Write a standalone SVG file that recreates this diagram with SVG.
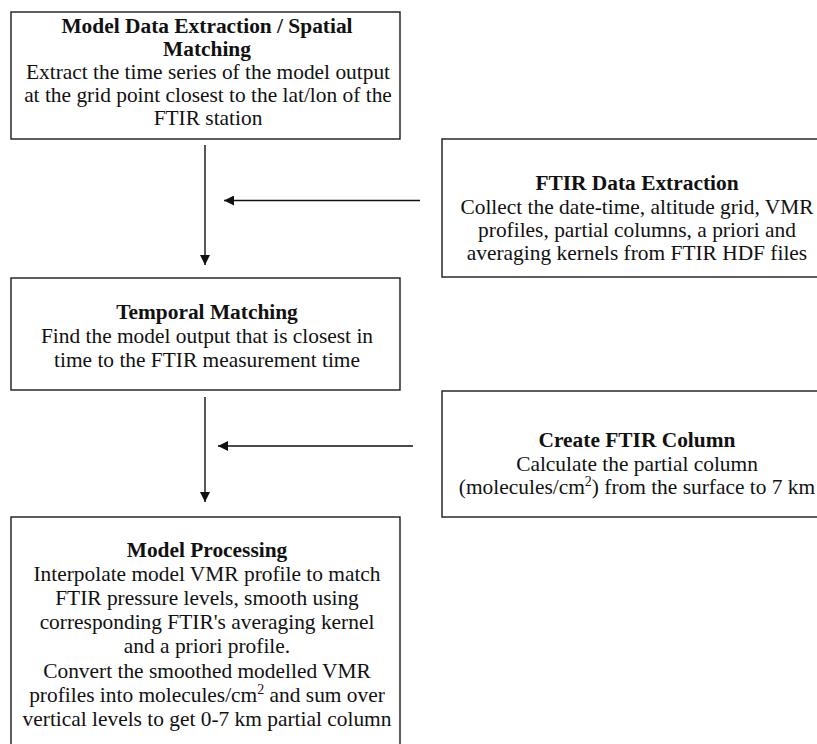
<svg xmlns="http://www.w3.org/2000/svg" width="817" height="744" viewBox="0 0 817 744">
<style>
.box{fill:#fff;stroke:#1a1a1a;stroke-width:1.4}
text{font-family:"Liberation Serif","Times New Roman","DejaVu Serif",serif;font-size:21.4px;fill:#111;text-anchor:middle}
.t{font-weight:bold}
.sup{font-size:14px}
.c{stroke:#111;stroke-width:1.4;fill:none}
</style>
<defs>
<marker id="ah" viewBox="0 0 10 10" refX="10" refY="5" markerWidth="10" markerHeight="10" markerUnits="userSpaceOnUse" orient="auto">
<path d="M0,0 L10,5 L0,10 Z" fill="#111"/>
</marker>
</defs>
<rect width="817" height="744" fill="#fff"/>
<g id="spatial">
<rect class="box" x="11" y="12" width="389" height="127"/>
<text class="t" x="207" y="33">Model Data Extraction / Spatial</text>
<text class="t" x="207" y="56">Matching</text>
<text x="208" y="79">Extract the time series of the model output</text>
<text x="208" y="102">at the grid point closest to the lat/lon of the</text>
<text x="208" y="125">FTIR station</text>
</g>
<g id="ftir-extraction">
<rect class="box" x="442" y="139" width="400" height="138"/>
<text class="t" x="637" y="190">FTIR Data Extraction</text>
<text x="637" y="213.5">Collect the date-time, altitude grid, VMR</text>
<text x="637" y="237">profiles, partial columns, a priori and</text>
<text x="637" y="260">averaging kernels from FTIR HDF files</text>
</g>
<g id="temporal">
<rect class="box" x="11" y="278" width="389" height="112"/>
<text class="t" x="207" y="319">Temporal Matching</text>
<text x="207" y="343">Find the model output that is closest in</text>
<text x="207" y="367">time to the FTIR measurement time</text>
</g>
<g id="ftir-column">
<rect class="box" x="442" y="391" width="400" height="126"/>
<text class="t" x="637" y="447">Create FTIR Column</text>
<text x="637" y="470.5">Calculate the partial column</text>
<text x="637" y="494">(molecules/cm<tspan class="sup" dy="-8">2</tspan><tspan dy="8">) from the surface to 7 km</tspan></text>
</g>
<g id="processing">
<rect class="box" x="11" y="517" width="389" height="240"/>
<text class="t" x="207" y="557">Model Processing</text>
<text x="207" y="581">Interpolate model VMR profile to match</text>
<text x="207" y="605">FTIR pressure levels, smooth using</text>
<text x="207" y="629">corresponding FTIR's averaging kernel</text>
<text x="207" y="653">and a priori profile.</text>
<text x="207" y="678">Convert the smoothed modelled VMR</text>
<text x="207" y="702">profiles into molecules/cm<tspan class="sup" dy="-8">2</tspan><tspan dy="8"> and sum over</tspan></text>
<text x="207" y="726">vertical levels to get 0-7 km partial column</text>
</g>
<g id="connectors">
<line class="c" x1="205" y1="145" x2="205" y2="265" marker-end="url(#ah)"/>
<line class="c" x1="420" y1="200.5" x2="224" y2="200.5" marker-end="url(#ah)"/>
<line class="c" x1="205" y1="397" x2="205" y2="502" marker-end="url(#ah)"/>
<line class="c" x1="413" y1="446" x2="218" y2="446" marker-end="url(#ah)"/>
</g>
</svg>
